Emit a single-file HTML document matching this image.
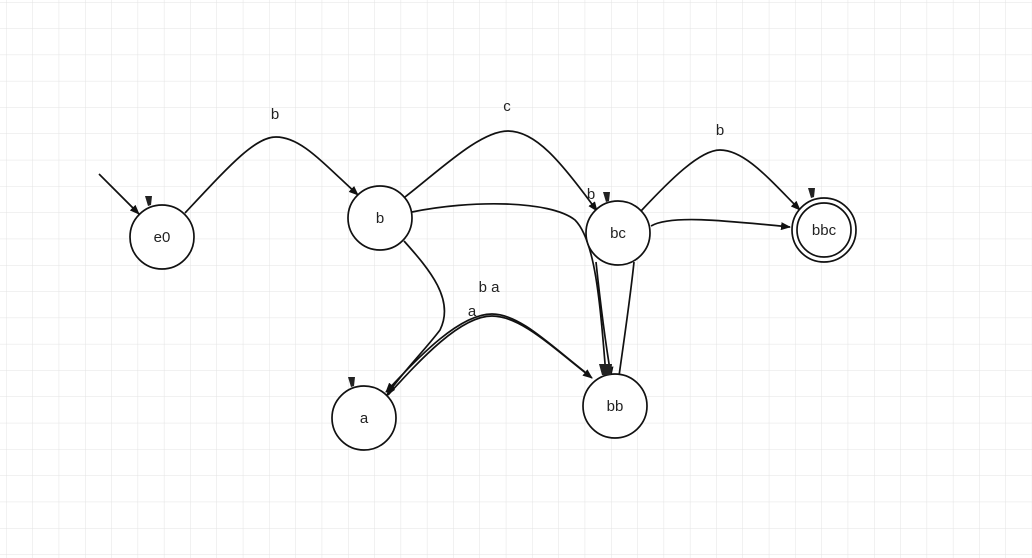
<!DOCTYPE html>
<html><head><style>
html,body{margin:0;padding:0;background:#fff;}
svg{display:block;}
text{font-family:"Liberation Sans",sans-serif;font-size:15px;fill:#222;}
</style></head><body>
<svg width="1032" height="558" viewBox="0 0 1032 558" xmlns="http://www.w3.org/2000/svg">
<defs>
<pattern id="g" x="85" y="2" width="26.3" height="26.3" patternUnits="userSpaceOnUse">
<path d="M0 0 V26.3 M0 0 H26.3" stroke="#e3e3e3" stroke-width="1" fill="none"/>
</pattern>
<marker id="ar" markerWidth="10" markerHeight="8" refX="9" refY="4" orient="auto" markerUnits="userSpaceOnUse">
<path d="M0 0 L10 4 L0 8 Z" fill="#111"/>
</marker>
</defs>
<rect width="1032" height="558" fill="url(#g)"/>
<g fill="none" stroke="#111" stroke-width="1.7">
<path d="M99 174 L139 214" marker-end="url(#ar)"/>
<path d="M185 213 C230 165 255 137 276 137 C300 137 320 160 358 195" marker-end="url(#ar)"/>
<path d="M405 197 C440 170 480 131 508 131 C535 131 560 160 597 211" marker-end="url(#ar)"/>
<path d="M412 212 C470 200 550 200 575 220 C595 240 600 300 606 376" marker-end="url(#ar)"/>
<path d="M596 262 C600 300 605 340 611 376" marker-end="url(#ar)"/>
<path d="M634 262 C630 300 624 340 619 376"/>
<path d="M641 211 C670 180 700 150 720 150 C745 150 770 180 800 210" marker-end="url(#ar)"/>
<path d="M651 226 C670 215 720 220 790 227" marker-end="url(#ar)"/>
<path d="M404 241 C430 270 455 300 440 330 C425 350 400 375 387 395" marker-end="url(#ar)"/>
<path d="M388 395 C420 360 460 316 492 316 C520 316 550 345 592 378" marker-end="url(#ar)"/>
<path d="M590 376 C550 345 520 314 492 314 C460 314 420 355 386 392" marker-end="url(#ar)"/>
</g>
<g fill="#fff" stroke="#111" stroke-width="1.7">
<circle cx="162" cy="237" r="32"/>
<circle cx="380" cy="218" r="32"/>
<circle cx="618" cy="233" r="32"/>
<circle cx="824" cy="230" r="32"/>
<circle cx="824" cy="230" r="27"/>
<circle cx="364" cy="418" r="32"/>
<circle cx="615" cy="406" r="32"/>
</g>
<g fill="#222">
<path d="M145 196 L152 196 L151 205 L148 206 Z"/>
<path d="M603 192 L610 192 L609 201 L606 202 Z"/>
<path d="M808 188 L815 188 L814 197 L811 198 Z"/>
<path d="M348 377 L355 377 L354 386 L351 387 Z"/>
<path d="M599 364 L612 364 L611 375 L602 375 Z"/>
</g>
<g text-anchor="middle">
<text x="162" y="242">e0</text>
<text x="380" y="223">b</text>
<text x="618" y="238">bc</text>
<text x="824" y="235">bbc</text>
<text x="364" y="423">a</text>
<text x="615" y="411">bb</text>
<text x="275" y="119">b</text>
<text x="507" y="111">c</text>
<text x="720" y="135">b</text>
<text x="591" y="199">b</text>
<text x="489" y="292">b a</text>
<text x="472" y="316">a</text>
</g>
</svg>
</body></html>
